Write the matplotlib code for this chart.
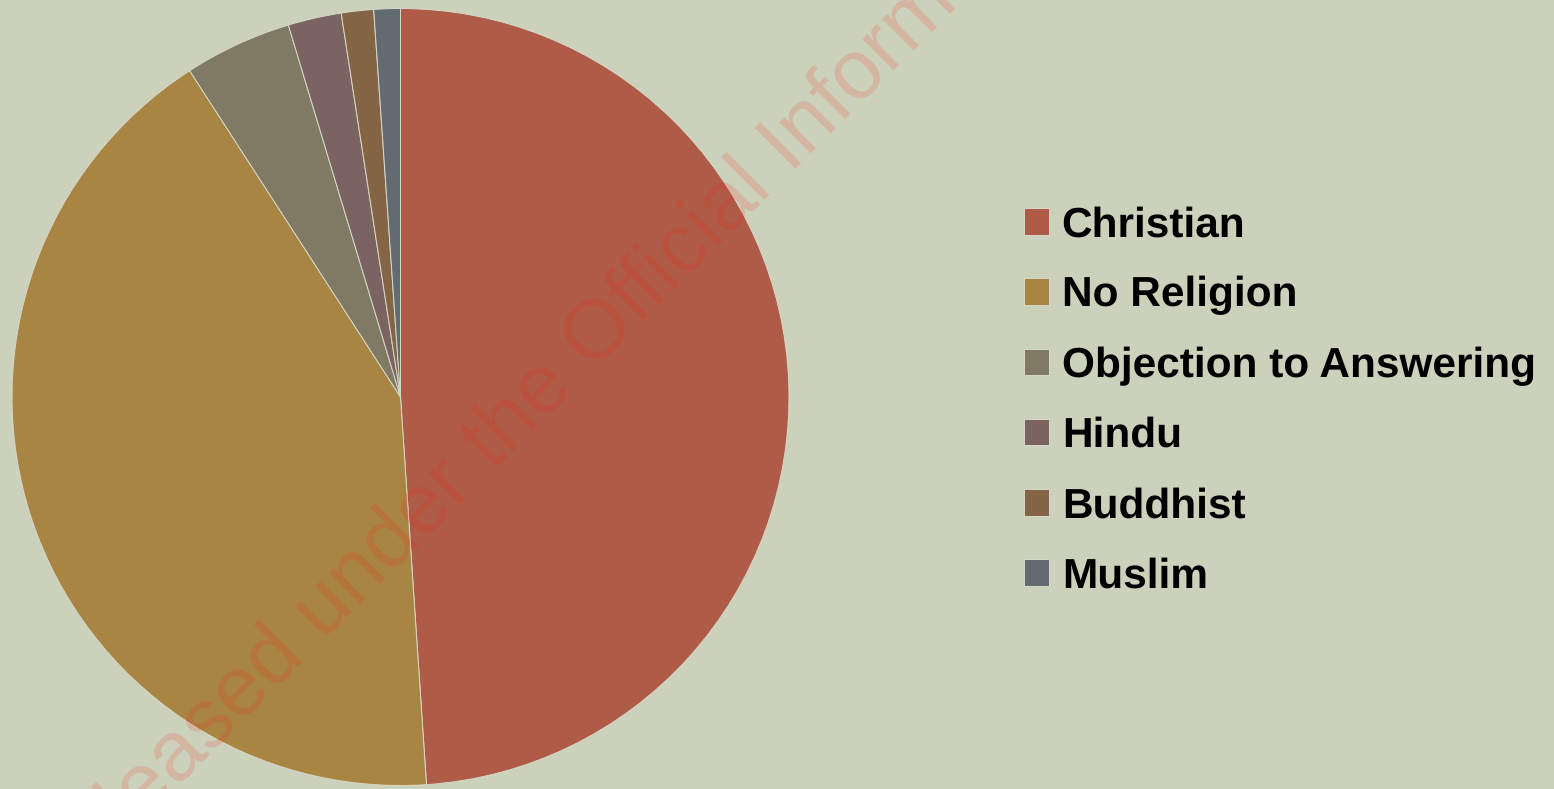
import matplotlib as mpl
mpl.use('Agg')
import matplotlib.pyplot as plt

mpl.rcParams['text.hinting'] = 'no_hinting'

# religion share (%)
religions = ['Christian', 'No Religion', 'Objection to Answering', 'Hindu', 'Buddhist', 'Muslim']
shares = [48.93, 41.93, 4.47, 2.22, 1.34, 1.10]
colours = ['#AE5C48', '#A98543', '#807A64', '#7A6361', '#836545', '#626B72']
bg = '#CCD1BB'

W, H = 1554, 789
fig = plt.figure(figsize=(W / 100, H / 100), dpi=100, facecolor=bg)

# pie centre ~(400, 397) px, radius ~389 px
cx, cy, r = 400.5, 397, 388.5
ax = fig.add_axes([(cx - r) / W, (H - cy - r) / H, 2 * r / W, 2 * r / H])
ax.set_facecolor(bg)
wedges, _ = ax.pie(shares, colors=colours, startangle=90, counterclock=False,
                   radius=1, wedgeprops=dict(edgecolor='#D6D8C8', linewidth=0.7))
ax.set_xlim(-1, 1)
ax.set_ylim(-1, 1)
ax.set_aspect('equal')
ax.axis('off')

leg = fig.legend(wedges, religions, loc='upper left',
                 bbox_to_anchor=(1024 / W, 1 - 206 / H), bbox_transform=fig.transFigure,
                 frameon=False, borderpad=0, borderaxespad=0,
                 handlelength=0.59, handleheight=0.59, handletextpad=0.3,
                 labelspacing=0.73,
                 prop=dict(family='Liberation Sans', weight='bold', size=30.5))

# watermark
fig.text(622 / W, 1 - 343 / H, 'Released under the Official Information Act',
         rotation=45, rotation_mode='anchor', ha='center', va='baseline',
         family='Liberation Sans', fontsize=60.8, color='#FF140A', alpha=0.15)

fig.savefig('out.png', dpi=100, facecolor=bg)
